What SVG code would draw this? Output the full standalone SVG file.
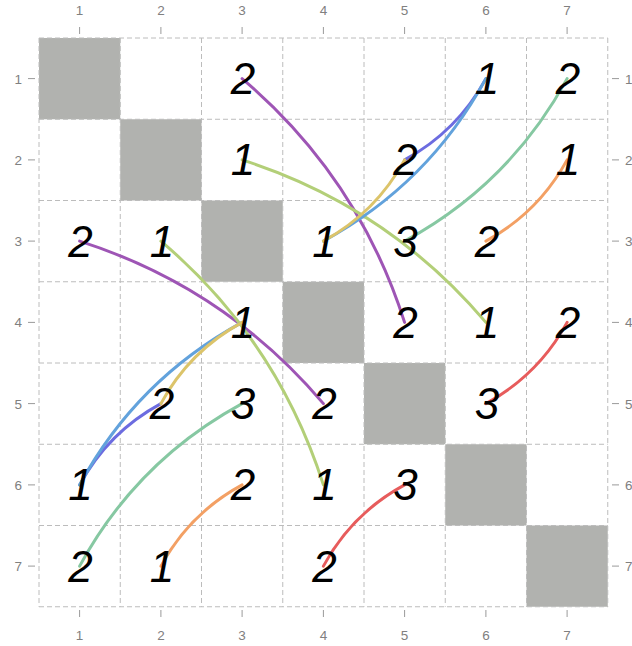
<svg xmlns="http://www.w3.org/2000/svg" width="632" height="646" viewBox="0 0 632 646">
<style>
.bg{fill:#ffffff}
.diag{fill:#b1b2af}
.grid{stroke:#bcbcbc;stroke-width:1;stroke-dasharray:5 3;fill:none}
.tick{stroke:#9a9a9a;stroke-width:1}
.tl{font-family:"Liberation Sans",Arial,sans-serif;font-size:13.5px;fill:#808080}
.num{font-family:"Liberation Sans",Arial,sans-serif;font-style:italic;font-size:44px;fill:#000;text-anchor:middle}
.c{fill:none;stroke-width:3;stroke-linecap:round}
.purple{stroke:#9e55b5}
.lgreen{stroke:#b3cf78}
.violet{stroke:#6c6ce0}
.blue{stroke:#62a2dc}
.yellow{stroke:#dcc46a}
.teal{stroke:#86c8a2}
.orange{stroke:#f3a064}
.red{stroke:#e75c5c}
</style>
<rect class="bg" x="0" y="0" width="632" height="646"/>
<g id="diagonal">
<rect class="diag" x="39" y="38" width="81.25" height="81.25"/>
<rect class="diag" x="120.25" y="119.25" width="81.25" height="81.25"/>
<rect class="diag" x="201.5" y="200.5" width="81.25" height="81.25"/>
<rect class="diag" x="282.75" y="281.75" width="81.25" height="81.25"/>
<rect class="diag" x="364" y="363" width="81.25" height="81.25"/>
<rect class="diag" x="445.25" y="444.25" width="81.25" height="81.25"/>
<rect class="diag" x="526.5" y="525.5" width="81.25" height="81.25"/>
</g>
<g id="grid">
<path class="grid" d="M39 38V606.75M120.25 38V606.75M201.5 38V606.75M282.75 38V606.75M364 38V606.75M445.25 38V606.75M526.5 38V606.75M607.75 38V606.75"/>
<path class="grid" d="M39 38H607.75M39 119.25H607.75M39 200.5H607.75M39 281.75H607.75M39 363H607.75M39 444.25H607.75M39 525.5H607.75M39 606.75H607.75"/>
</g>
<g id="ticks">
<path class="tick" d="M79.6 27V34M160.9 27V34M242.1 27V34M323.4 27V34M404.6 27V34M485.9 27V34M567.1 27V34"/>
<path class="tick" d="M79.6 610V617M160.9 610V617M242.1 610V617M323.4 610V617M404.6 610V617M485.9 610V617M567.1 610V617"/>
<path class="tick" d="M28 78.6H35M28 159.9H35M28 241.1H35M28 322.4H35M28 403.6H35M28 484.9H35M28 566.1H35"/>
<path class="tick" d="M612 78.6H619M612 159.9H619M612 241.1H619M612 322.4H619M612 403.6H619M612 484.9H619M612 566.1H619"/>
<g class="tl" text-anchor="middle">
<text x="79.6" y="15">1</text><text x="160.9" y="15">2</text><text x="242.1" y="15">3</text><text x="323.4" y="15">4</text><text x="404.6" y="15">5</text><text x="485.9" y="15">6</text><text x="567.1" y="15">7</text>
<text x="79.6" y="640">1</text><text x="160.9" y="640">2</text><text x="242.1" y="640">3</text><text x="323.4" y="640">4</text><text x="404.6" y="640">5</text><text x="485.9" y="640">6</text><text x="567.1" y="640">7</text>
</g>
<g class="tl" text-anchor="end">
<text x="22" y="83.5">1</text><text x="22" y="164.8">2</text><text x="22" y="246">3</text><text x="22" y="327.3">4</text><text x="22" y="408.5">5</text><text x="22" y="489.8">6</text><text x="22" y="571">7</text>
</g>
<g class="tl" text-anchor="start">
<text x="625" y="83.5">1</text><text x="625" y="164.8">2</text><text x="625" y="246">3</text><text x="625" y="327.3">4</text><text x="625" y="408.5">5</text><text x="625" y="489.8">6</text><text x="625" y="571">7</text>
</g>
</g>
<g id="connectors">
<path class="c purple" d="M242.1 78.6Q358.3 177.2 404.6 322.4"/>
<path class="c lgreen" d="M242.1 159.9Q387.3 206.2 485.9 322.4"/>
<path class="c violet" d="M404.6 159.9Q457.3 131.3 485.9 78.6"/>
<path class="c blue" d="M323.4 241.1Q428.7 183.9 485.9 78.6"/>
<path class="c yellow" d="M323.4 241.1Q376 212.5 404.6 159.9"/>
<path class="c teal" d="M404.6 241.1Q509.9 183.9 567.1 78.6"/>
<path class="c orange" d="M485.9 241.1Q538.5 212.5 567.1 159.9"/>
<path class="c red" d="M485.9 403.6Q538.5 375 567.1 322.4"/>
<path class="c purple" d="M79.6 241.1Q224.8 287.4 323.4 403.6"/>
<path class="c lgreen" d="M160.9 241.1Q277.1 339.7 323.4 484.9"/>
<path class="c violet" d="M160.9 403.6Q108.2 432.2 79.6 484.9"/>
<path class="c blue" d="M242.1 322.4Q136.8 379.6 79.6 484.9"/>
<path class="c yellow" d="M242.1 322.4Q189.5 351 160.9 403.6"/>
<path class="c teal" d="M242.1 403.6Q136.8 460.8 79.6 566.1"/>
<path class="c orange" d="M242.1 484.9Q189.5 513.5 160.9 566.1"/>
<path class="c red" d="M404.6 484.9Q352 513.5 323.4 566.1"/>
</g>
<g id="n13"><text class="num" x="243" y="94">2</text></g>
<g id="n16"><text class="num" x="487" y="94">1</text></g>
<g id="n17"><text class="num" x="568" y="94">2</text></g>
<g id="n23"><text class="num" x="243" y="175.3">1</text></g>
<g id="n25"><text class="num" x="405.6" y="175.3">2</text></g>
<g id="n27"><text class="num" x="568" y="175.3">1</text></g>
<g id="n31"><text class="num" x="80.6" y="256.5">2</text></g>
<g id="n32"><text class="num" x="161.9" y="256.5">1</text></g>
<g id="n34"><text class="num" x="324.4" y="256.5">1</text></g>
<g id="n35"><text class="num" x="405.6" y="256.5">3</text></g>
<g id="n36"><text class="num" x="486.9" y="256.5">2</text></g>
<g id="n43"><text class="num" x="243" y="337.8">1</text></g>
<g id="n45"><text class="num" x="405.6" y="337.8">2</text></g>
<g id="n46"><text class="num" x="486.9" y="337.8">1</text></g>
<g id="n47"><text class="num" x="568" y="337.8">2</text></g>
<g id="n52"><text class="num" x="161.9" y="419">2</text></g>
<g id="n53"><text class="num" x="243" y="419">3</text></g>
<g id="n54"><text class="num" x="324.4" y="419">2</text></g>
<g id="n56"><text class="num" x="486.9" y="419">3</text></g>
<g id="n61"><text class="num" x="80.6" y="500.3">1</text></g>
<g id="n63"><text class="num" x="243" y="500.3">2</text></g>
<g id="n64"><text class="num" x="324.4" y="500.3">1</text></g>
<g id="n65"><text class="num" x="405.6" y="500.3">3</text></g>
<g id="n71"><text class="num" x="80.6" y="581.5">2</text></g>
<g id="n72"><text class="num" x="161.9" y="581.5">1</text></g>
<g id="n74"><text class="num" x="324.4" y="581.5">2</text></g>
</svg>
